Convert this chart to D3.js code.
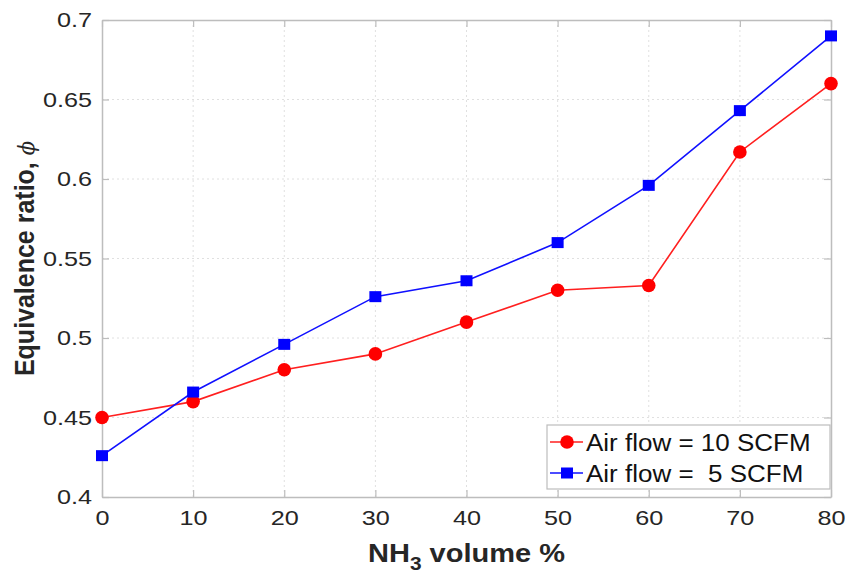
<!DOCTYPE html>
<html><head><meta charset="utf-8">
<script src="https://cdn.jsdelivr.net/npm/d3@7"></script>
<style>body{margin:0;background:#fff}svg{display:block}</style>
</head><body><svg id="c" width="848" height="574"></svg>
<script>
const xValues = [0, 10, 20, 30, 40, 50, 60, 70, 80];
const air10 = [0.45, 0.46, 0.48, 0.49, 0.51, 0.53, 0.533, 0.617, 0.66];
const air5 = [0.426, 0.466, 0.496, 0.526, 0.536, 0.56, 0.596, 0.643, 0.69];
const xTicks = [0, 10, 20, 30, 40, 50, 60, 70, 80];
const yTicks = [0.4, 0.45, 0.5, 0.55, 0.6, 0.65, 0.7];
const seriesNames = ["Air flow = 10 SCFM", "Air flow =  5 SCFM"];

const svg = d3.select("#c");
const L = 102, R = 831, T = 20, B = 497;
const x = d3.scaleLinear().domain([0, 80]).range([L, R]);
const y = d3.scaleLinear().domain([0.4, 0.7]).range([B, T]);
const font = "Liberation Sans, Arial, Helvetica, sans-serif";
const txt = "#262626";
const stretch = (sel, f) => sel.each(function () {
  const w = this.getComputedTextLength();
  d3.select(this).attr("textLength", w * f).attr("lengthAdjust", "spacingAndGlyphs");
});

// grid
svg.append("g").selectAll("line").data(xTicks.slice(1, -1)).join("line")
  .attr("x1", d => x(d)).attr("x2", d => x(d)).attr("y1", T).attr("y2", B)
  .attr("stroke", "#e0e0e0").attr("stroke-dasharray", "2,3");
svg.append("g").selectAll("line").data(yTicks.slice(1, -1)).join("line")
  .attr("y1", d => y(d)).attr("y2", d => y(d)).attr("x1", L).attr("x2", R)
  .attr("stroke", "#e0e0e0").attr("stroke-dasharray", "2,3");

// axes
const ax = (g, axis) => {
  g.call(axis);
  g.select(".domain").attr("stroke", "#bdbdbd").attr("stroke-width", 1.5);
  g.selectAll(".tick line").attr("stroke", "#bdbdbd").attr("stroke-width", 1.2);
  g.selectAll("text").attr("font-family", font).attr("font-size", 21).attr("fill", txt).call(stretch, 1.2);
};
ax(svg.append("g").attr("transform", `translate(0,${B})`),
  d3.axisBottom(x).tickValues(xTicks).tickSizeInner(-7).tickSizeOuter(0).tickPadding(13).tickFormat(d3.format("d")));
ax(svg.append("g").attr("transform", `translate(0,${T})`),
  d3.axisTop(x).tickValues(xTicks).tickSizeInner(-7).tickSizeOuter(0).tickFormat(""));
ax(svg.append("g").attr("transform", `translate(${L},0)`),
  d3.axisLeft(y).tickValues(yTicks).tickSizeInner(-7).tickSizeOuter(0).tickPadding(10).tickFormat(d => d3.format("")(+d.toFixed(2))));
ax(svg.append("g").attr("transform", `translate(${R},0)`),
  d3.axisRight(y).tickValues(yTicks).tickSizeInner(-7).tickSizeOuter(0).tickFormat(""));

// lines
const line = d3.line().x((d, i) => x(xValues[i])).y(d => y(d));
svg.append("path").datum(air10).attr("d", line).attr("fill", "none").attr("stroke", "#ff1f1f").attr("stroke-width", 1.6);
svg.append("path").datum(air5).attr("d", line).attr("fill", "none").attr("stroke", "#1010ff").attr("stroke-width", 1.6);
svg.append("g").selectAll("circle").data(air10).join("circle")
  .attr("cx", (d, i) => x(xValues[i])).attr("cy", d => y(d)).attr("r", 6.8).attr("fill", "#ff0000");
svg.append("g").selectAll("rect").data(air5).join("rect")
  .attr("x", (d, i) => x(xValues[i]) - 6).attr("y", d => y(d) - 5.5).attr("width", 12).attr("height", 11).attr("fill", "#0000ff");

// axis labels
const xl = svg.append("text").attr("x", x(40)).attr("y", 562).attr("text-anchor", "middle")
  .attr("font-family", font).attr("font-size", 25).attr("font-weight", "bold").attr("fill", txt);
xl.append("tspan").text("NH");
xl.append("tspan").attr("font-size", 18).attr("dy", 8).text("3");
xl.append("tspan").attr("dy", -8).text(" volume %");
xl.call(stretch, 1.16);

const yl = svg.append("text").attr("transform", `translate(34,${(T + B) / 2}) scale(1.1,1) rotate(-90)`).attr("text-anchor", "middle")
  .attr("font-family", font).attr("font-size", 25).attr("font-weight", "bold").attr("fill", txt);
yl.append("tspan").text("Equivalence ratio, ");
yl.append("tspan").attr("font-style", "italic").attr("font-weight", "normal").attr("font-family", "DejaVu Serif, serif").attr("font-size", 21).text("\u03D5");

// legend
const lg = svg.append("g");
lg.append("rect").attr("x", 547).attr("y", 425).attr("width", 283).attr("height", 64)
  .attr("fill", "#fff").attr("stroke", "#bdbdbd").attr("stroke-width", 1.2);
const leg = [{c: "#ff1f1f", m: "circle"}, {c: "#1010ff", m: "square"}];
leg.forEach((s, i) => {
  const cy = 442 + i * 31;
  lg.append("line").attr("x1", 550).attr("x2", 583).attr("y1", cy).attr("y2", cy).attr("stroke", s.c).attr("stroke-width", 1.6);
  if (s.m === "circle") lg.append("circle").attr("cx", 567).attr("cy", cy).attr("r", 6.8).attr("fill", "#ff0000");
  else lg.append("rect").attr("x", 561).attr("y", cy - 5.5).attr("width", 12).attr("height", 11).attr("fill", "#0000ff");
  lg.append("text").attr("x", 586).attr("y", cy + 9).attr("font-family", font).attr("font-size", 23)
    .attr("fill", "#111").attr("xml:space", "preserve").style("white-space", "pre").text(seriesNames[i]).call(stretch, 1.13);
});
</script></body></html>
